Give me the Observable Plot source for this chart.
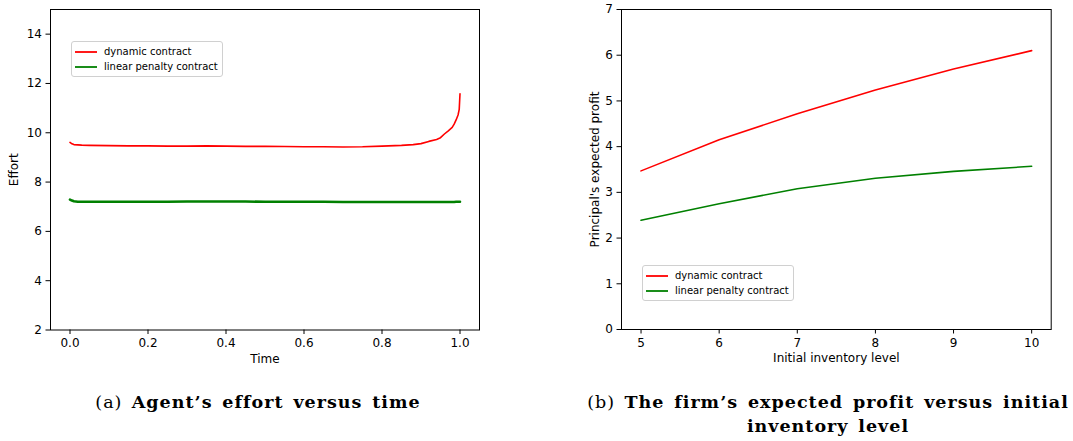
<!DOCTYPE html>
<html>
<head>
<meta charset="utf-8">
<script src="https://cdn.jsdelivr.net/npm/d3@7"></script>
<script src="https://cdn.jsdelivr.net/npm/@observablehq/plot@0.6"></script>
<style>
  html, body { margin: 0; padding: 0; background: #fff; }
  #root { position: relative; width: 1073px; height: 441px; overflow: hidden; }
  .panel { position: absolute; top: 0; }
  .panel svg text { font-size: 12px; font-family: "DejaVu Sans", sans-serif; fill: #000; }
  .legend { position: absolute; background: rgba(255,255,255,0.8); border: 1px solid #d0d0d0; border-radius: 3px;
            font-family: "DejaVu Sans", sans-serif; font-size: 10px; color: #000; padding: 2px 4px 2px 3px; }
  .legend .row { display: flex; align-items: center; height: 15px; white-space: nowrap; }
  .legend svg { margin-right: 7px; }
  .caption { position: absolute; font-family: "DejaVu Serif", serif; font-size: 17.5px; color: #000;
             letter-spacing: 1px; word-spacing: 2.8px;
             text-align: center; line-height: 24px; transform: translateX(-50%); white-space: nowrap; }
</style>
</head>
<body>
<div id="root"></div>
<script>
// ---------- data ----------
const seriesNames = ["dynamic contract", "linear penalty contract"];
const seriesColors = ["#ff0000", "#008000"];

// (a) Agent's effort versus time
const time = [0, 0.005, 0.01, 0.02, 0.03, 0.05, 0.1, 0.15, 0.2, 0.25, 0.3, 0.35, 0.4, 0.45, 0.5, 0.55, 0.6, 0.65, 0.7, 0.75, 0.8, 0.85, 0.88, 0.9, 0.92, 0.94, 0.95, 0.96, 0.97, 0.98, 0.985, 0.99, 0.995, 0.998, 1.0];
const effortDynamic = [9.61, 9.55, 9.52, 9.51, 9.50, 9.49, 9.48, 9.47, 9.47, 9.46, 9.46, 9.47, 9.46, 9.45, 9.45, 9.44, 9.43, 9.43, 9.42, 9.43, 9.46, 9.49, 9.52, 9.56, 9.65, 9.73, 9.80, 9.95, 10.08, 10.22, 10.35, 10.52, 10.72, 10.95, 11.58];
const effortLinear = [7.29, 7.25, 7.22, 7.20, 7.20, 7.20, 7.20, 7.20, 7.20, 7.20, 7.21, 7.21, 7.21, 7.21, 7.20, 7.20, 7.20, 7.20, 7.19, 7.19, 7.19, 7.19, 7.19, 7.19, 7.19, 7.19, 7.19, 7.19, 7.19, 7.19, 7.19, 7.20, 7.20, 7.20, 7.20];
const effortYTicks = [2, 4, 6, 8, 10, 12, 14];
const timeTicks = [0, 0.2, 0.4, 0.6, 0.8, 1.0];

// (b) The firm's expected profit versus initial inventory level
const inventory = [5, 6, 7, 8, 9, 10];
const profitDynamic = [3.47, 4.15, 4.72, 5.24, 5.70, 6.10];
const profitLinear = [2.39, 2.75, 3.08, 3.31, 3.46, 3.57];
const profitYTicks = [0, 1, 2, 3, 4, 5, 6, 7];
const inventoryTicks = [5, 6, 7, 8, 9, 10];

const captionA = ["(a) ", "Agent\u2019s effort versus time"];
const captionB = ["(b) ", "The firm\u2019s expected profit versus initial", "inventory level"];

// ---------- build ----------
const root = document.getElementById("root");
const toRows = (xs, ys, s) => xs.map((x, i) => ({x, y: ys[i], s}));

function panel({left, width, height, mL, mR, mT, mB, xDomain, yDomain, xTicks, yTicks, xFmt, yFmt, data, widths, xLabel, yLabel, yLabelDx}) {
  const marks = [
    Plot.frame({stroke: "#000", strokeWidth: 1}),
    Plot.axisX({ticks: xTicks, tickFormat: xFmt, tickSize: 4.5, tickPadding: 4, label: null}),
    Plot.axisY({ticks: yTicks, tickFormat: yFmt, tickSize: 4.5, tickPadding: 4, label: null}),
    Plot.text([xLabel], {frameAnchor: "bottom", dy: 29, text: d => d, lineAnchor: "middle", textAnchor: "middle"}),
    Plot.text([yLabel], {frameAnchor: "left", dx: yLabelDx, rotate: -90, text: d => d, lineAnchor: "middle", textAnchor: "middle"})
  ];
  data.forEach((rows, i) => {
    marks.push(Plot.line(rows, {x: "x", y: "y", stroke: seriesColors[i], strokeWidth: widths[i], curve: "linear"}));
  });
  const chart = Plot.plot({
    width, height, marginLeft: mL, marginRight: mR, marginTop: mT, marginBottom: mB,
    x: {domain: xDomain}, y: {domain: yDomain},
    style: {fontFamily: "DejaVu Sans, sans-serif", fontSize: "12px", color: "#000", background: "transparent"},
    marks
  });
  const wrap = document.createElement("div");
  wrap.className = "panel";
  wrap.style.left = left + "px";
  wrap.appendChild(chart);
  root.appendChild(wrap);
}

panel({
  left: 0, width: 500, height: 372, mL: 50, mR: 21, mT: 9, mB: 42.5,
  xDomain: [-0.05, 1.05], yDomain: [2, 15], xTicks: timeTicks, yTicks: effortYTicks,
  xFmt: d3.format(".1f"), yFmt: d3.format("d"),
  data: [toRows(time, effortDynamic, 0), toRows(time, effortLinear, 1)], widths: [1.6, 2.6],
  xLabel: "Time", yLabel: "Effort", yLabelDx: -36
});

panel({
  left: 560, width: 513, height: 372, mL: 61, mR: 22.3, mT: 9, mB: 43,
  xDomain: [4.75, 10.25], yDomain: [0, 7], xTicks: inventoryTicks, yTicks: profitYTicks,
  xFmt: d3.format("d"), yFmt: d3.format("d"),
  data: [toRows(inventory, profitDynamic, 0), toRows(inventory, profitLinear, 1)], widths: [1.6, 1.6],
  xLabel: "Initial inventory level", yLabel: "Principal's expected profit", yLabelDx: -26
});

function legend(left, top) {
  const box = document.createElement("div");
  box.className = "legend";
  box.style.left = left + "px";
  box.style.top = top + "px";
  seriesNames.forEach((name, i) => {
    const row = document.createElement("div");
    row.className = "row";
    row.innerHTML = `<svg width="22" height="4"><line x1="0" x2="22" y1="2" y2="2" stroke="${seriesColors[i]}" stroke-width="1.8"/></svg><span>${name}</span>`;
    box.appendChild(row);
  });
  root.appendChild(box);
}
legend(71, 41);
legend(642, 265);

function caption(cx, top, parts) {
  const c = document.createElement("div");
  c.className = "caption";
  c.style.left = cx + "px";
  c.style.top = top + "px";
  c.innerHTML = `${parts[0]}<b>${parts[1]}</b>` + (parts[2] ? `<br><b>${parts[2]}</b>` : "");
  root.appendChild(c);
}
caption(258, 389.5, captionA);
caption(828, 389.5, captionB);
</script>
</body>
</html>
